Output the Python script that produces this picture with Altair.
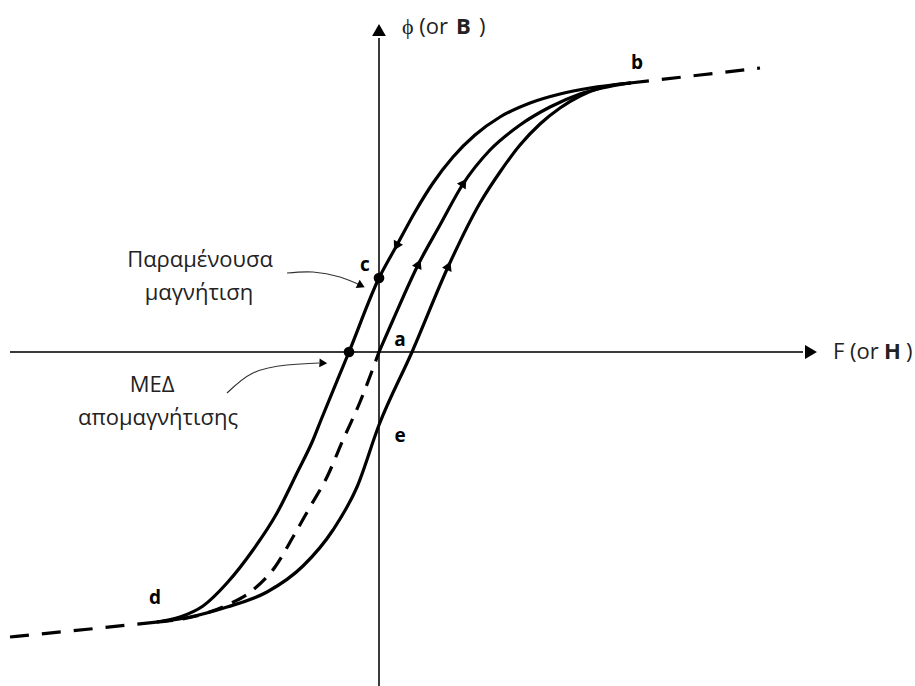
import altair as alt
import pandas as pd

# Magnetising force F (or H) and flux phi (or B), in drawing units
# with the origin where the two axes cross.

# Descending branch b -> c -> d (residual flux c, coercive point on F axis)
DESC_F = [251, 211, 181, 151, 121, 96, 74, 54, 36, 18, 0, -30, -58, -66, -82, -102, -126, -152, -176, -199, -222]
DESC_B = [269, 264, 258, 249, 235, 217, 195, 169, 140, 107, 74, 0, -68, -88, -121, -161, -198, -231, -254, -265, -270]

# Ascending branch d -> e -> b
ASC_F = [-222, -189, -152, -112, -76, -46, -22, 0, 33, 69, 101, 121, 141, 161, 181, 201, 221, 251]
ASC_B = [-270, -265, -255, -240, -214, -178, -135, -73, 0, 85, 149, 180, 207, 228, 244, 256, 264, 269]

# Initial magnetisation curve a -> b (solid)
INIT_F = [0, 14, 39, 61, 84, 111, 141, 171, 201, 251]
INIT_B = [0, 32, 87, 127, 168, 202, 227, 245, 258, 269]

# Initial curve continued a -> d (dashed)
INIT_NEG_F = [-222, -179, -152, -126, -104, -86, -69, -52, -36, -19, 0]
INIT_NEG_B = [-270, -263, -253, -238, -215, -185, -155, -125, -88, -50, 0]

# Saturation tails beyond b and d (dashed)
SAT_UP_F = [251, 321, 381]
SAT_UP_B = [269, 277, 284]
SAT_DN_F = [-369, -289, -222]
SAT_DN_B = [-285, -277, -270]

# Marked points: residual magnetisation c and coercive MMF
DOT_F = [0, -30]
DOT_B = [74, 0]

# Direction arrows along the branches (position, heading in degrees)
ARR_F = [18, 39, 84, 69]
ARR_B = [107, 87, 168, 85]
ARR_ANGLE = [208, 24, 34, 24]

# Point letters
LETTERS = ["a", "b", "c", "d", "e"]
LETTER_F = [21, 258, -14, -224, 21]
LETTER_B = [12, 289, 87, -246, -84]

# Annotation texts
NOTE_LINES = ["Παραμένουσα", "μαγνήτιση", "ΜΕΔ", "απομαγνήτισης"]
NOTE_F = [-179, -180, -227, -221]
NOTE_B = [92, 59, -33, -66]

# Pointer curves from the annotations to the marked points
PTR1_F = [-92, -66, -39, -19]
PTR1_B = [79, 80, 75, 67]
PTR2_F = [-152, -126, -92, -60]
PTR2_B = [-41, -21, -13, -11]
PTR_HEAD_F = [-19, -57]
PTR_HEAD_B = [67, -11]
PTR_HEAD_ANGLE = [116, 93]

# Axis titles, with the bold symbols as separate pieces
TITLE_PARTS = ["ϕ (or", ")", "F (or", ")"]
TITLE_F = [23, 100, 454, 527]
TITLE_B = [325, 325, 0, 0]
TITLE_BOLD = ["B", "H"]
TITLE_BOLD_F = [77, 505]
TITLE_BOLD_B = [325, 0]

# Axis extents
H_AXIS_F = [-369, 424]
V_AXIS_B = [-334, 314]

X_DOMAIN = [-379, 536]
Y_DOMAIN = [-334, 352]

xs = alt.Scale(domain=X_DOMAIN, nice=False, zero=False)
ys = alt.Scale(domain=Y_DOMAIN, nice=False, zero=False)
X = alt.X("F:Q", scale=xs, axis=None)
Y = alt.Y("B:Q", scale=ys, axis=None)


def frame(f, b, **extra):
    d = {"F": f, "B": b}
    d.update(extra)
    return pd.DataFrame(d)


AXIS_COLOR = "#3a3a3a"

h_axis = alt.Chart(frame(H_AXIS_F, [0, 0])).mark_line(
    color=AXIS_COLOR, strokeWidth=2
).encode(x=X, y=Y)
v_axis = alt.Chart(frame([0, 0], V_AXIS_B)).mark_line(
    color=AXIS_COLOR, strokeWidth=2
).encode(x=X, y=Y, order=alt.Order("B:Q"))

h_head = alt.Chart(frame([432], [0])).mark_point(
    shape="triangle-right", filled=True, size=190, color="black", opacity=1
).encode(x=X, y=Y)
v_head = alt.Chart(frame([0], [322])).mark_point(
    shape="triangle-up", filled=True, size=190, color="black", opacity=1
).encode(x=X, y=Y)


def solid(f, b):
    return alt.Chart(frame(f, b)).mark_line(
        color="black", strokeWidth=3.2, interpolate="monotone", strokeCap="round"
    ).encode(x=X, y=Y)


def dashed(f, b, dash):
    return alt.Chart(frame(f, b)).mark_line(
        color="black", strokeWidth=3.2, interpolate="monotone", strokeDash=dash
    ).encode(x=X, y=Y)


desc = solid(DESC_F, DESC_B)
asc = solid(ASC_F, ASC_B)
init = solid(INIT_F, INIT_B)
init_neg = dashed(INIT_NEG_F, INIT_NEG_B, [16, 10])
sat_up = dashed(SAT_UP_F, SAT_UP_B, [19, 13])
sat_dn = dashed(SAT_DN_F, SAT_DN_B, [19, 13])

dots = alt.Chart(frame(DOT_F, DOT_B)).mark_circle(
    color="black", size=115, opacity=1
).encode(x=X, y=Y)

arrows = alt.Chart(frame(ARR_F, ARR_B, ang=ARR_ANGLE)).mark_point(
    shape="triangle", filled=True, size=110, color="black", opacity=1
).encode(x=X, y=Y, angle=alt.Angle("ang:Q", scale=None))

letters = alt.Chart(frame(LETTER_F, LETTER_B, t=LETTERS)).mark_text(
    font="Open Sans", fontSize=19, fontWeight="bold", color="black"
).encode(x=X, y=Y, text="t:N")

notes = alt.Chart(frame(NOTE_F, NOTE_B, t=NOTE_LINES)).mark_text(
    font="Open Sans", fontSize=22, color="#222222"
).encode(x=X, y=Y, text="t:N")

ptr1 = alt.Chart(frame(PTR1_F, PTR1_B)).mark_line(
    color="#333333", strokeWidth=1.2, interpolate="natural"
).encode(x=X, y=Y)
ptr2 = alt.Chart(frame(PTR2_F, PTR2_B)).mark_line(
    color="#333333", strokeWidth=1.2, interpolate="natural"
).encode(x=X, y=Y)
ptr_heads = alt.Chart(frame(PTR_HEAD_F, PTR_HEAD_B, ang=PTR_HEAD_ANGLE)).mark_point(
    shape="triangle", filled=True, size=80, color="black", opacity=1
).encode(x=X, y=Y, angle=alt.Angle("ang:Q", scale=None))

titles = alt.Chart(frame(TITLE_F, TITLE_B, t=TITLE_PARTS)).mark_text(
    font="Open Sans", fontSize=22, align="left", baseline="middle", color="#222222"
).encode(x=X, y=Y, text="t:N")
titles_bold = alt.Chart(frame(TITLE_BOLD_F, TITLE_BOLD_B, t=TITLE_BOLD)).mark_text(
    font="Open Sans", fontSize=22, fontWeight="bold", align="left", baseline="middle", color="#222222"
).encode(x=X, y=Y, text="t:N")

chart = alt.layer(
    h_axis, v_axis, h_head, v_head,
    sat_up, sat_dn, init_neg, desc, asc, init,
    dots, arrows, letters, notes, ptr1, ptr2, ptr_heads, titles, titles_bold,
).properties(
    width=915, height=686, padding=0, autosize="none", background="white"
).configure_view(stroke=None)

chart.save("out.html", embed_options={"renderer": "svg", "actions": False})
